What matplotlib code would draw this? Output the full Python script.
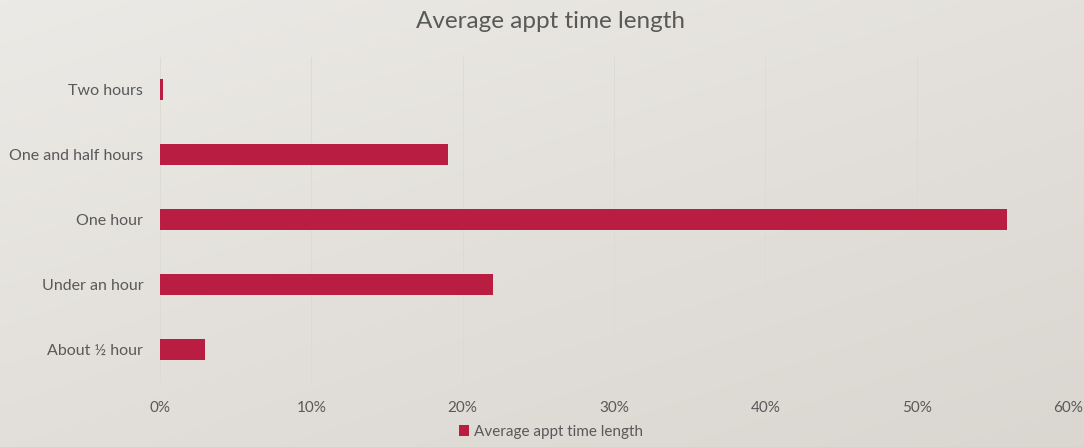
import matplotlib.pyplot as plt
import numpy as np

categories = ['About ½ hour', 'Under an hour', 'One hour', 'One and half hours', 'Two hours']
values = [3, 22, 56, 19, 0.2]
series_name = 'Average appt time length'
xticks = [0, 10, 20, 30, 40, 50, 60]

bar_color = '#B91E42'
text_color = '#595959'

plt.rcParams['font.family'] = ['Lato', 'DejaVu Sans']

fig = plt.figure(figsize=(10.84, 4.47), dpi=100)

# soft background gradient behind everything
bg = fig.add_axes([0, 0, 1, 1], zorder=-10)
yy, xx = np.mgrid[0:1:200j, 0:1:400j]
shade = 0.55 * yy + 0.45 * xx
light = np.array([0.925, 0.918, 0.902])
dark = np.array([0.855, 0.839, 0.816])
img = light[None, None, :] * (1 - shade[..., None]) + dark[None, None, :] * shade[..., None]
bg.imshow(img, aspect='auto', extent=[0, 1, 0, 1], origin='upper')
bg.axis('off')

ax = fig.add_axes([160 / 1084, 1 - 382 / 447, (1068 - 160) / 1084, (382 - 57) / 447])
ax.patch.set_alpha(0)

y = np.arange(len(categories))
ax.barh(y, values, height=0.31, color=bar_color, label=series_name, zorder=3)

ax.set_xlim(0, 60)
ax.set_ylim(-0.5, len(categories) - 0.5)
ax.set_xticks(xticks)
ax.set_xticklabels([f'{t}%' for t in xticks], fontsize=11, color=text_color)
ax.set_yticks(y)
ax.set_yticklabels(categories, fontsize=11.5, color=text_color)
ax.tick_params(axis='both', length=0)
ax.tick_params(axis='y', pad=12)
ax.tick_params(axis='x', pad=14)
ax.grid(axis='x', color='#DDD9D3', linewidth=0.6, zorder=0)
for s in ax.spines.values():
    s.set_visible(False)

fig.suptitle(series_name, x=0.508, y=0.975, fontsize=17.5, color=text_color)

fig.legend(loc='lower center', bbox_to_anchor=(0.508, -0.012), frameon=False,
           fontsize=11, labelcolor=text_color, handlelength=0.7, handleheight=0.7,
           handletextpad=0.3)

fig.savefig('out.png', dpi=100)
